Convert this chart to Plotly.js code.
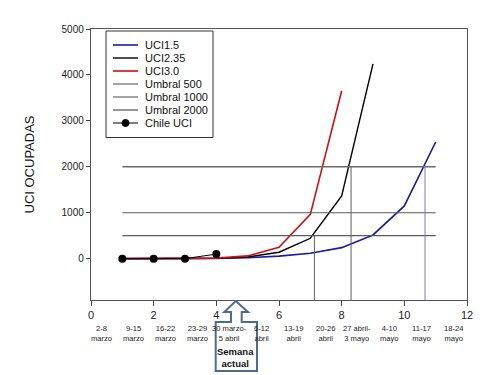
<!DOCTYPE html>
<html>
<head>
<meta charset="utf-8">
<script src="https://cdn.plot.ly/plotly-3.0.1.min.js"></script>
<style>html,body{margin:0;padding:0;background:#fff;}#chart{width:500px;height:375px;}</style>
</head>
<body>
<div id="chart"></div>
<script>
// Semana index (x axis)
var weeksModel = [1, 2, 3, 4, 5, 6, 7, 8, 9, 10, 11];
var uci15  = [0, 0, 0, 5, 20, 55, 117, 240, 516, 1148, 2540];
var weeksUci235 = [1, 2, 3, 4, 5, 6, 7, 8, 9];
var uci235 = [0, 0, 0, 8, 35, 140, 444, 1366, 4240];
var weeksUci30 = [1, 2, 3, 4, 5, 6, 7, 8];
var uci30  = [0, 0, 0, 12, 60, 250, 965, 3655];
var umbralX = [1, 11];
var umbral500 = [500, 500];
var umbral1000 = [1000, 1000];
var umbral2000 = [2000, 2000];
var chileWeeks = [1, 2, 3, 4];
var chileUci = [0, 0, 0, 100];
// crossing markers (vertical drop lines)
var drop1X = [7.13, 7.13], drop1Y = [500, -900];
var drop2X = [8.30, 8.30], drop2Y = [2000, -900];
var drop3X = [10.66, 10.66], drop3Y = [2000, -900];
var weekLabels = ["2-8<br>marzo", "9-15<br>marzo", "16-22<br>marzo", "23-29<br>marzo",
  "30 marzo-<br>5 abril", "6-12<br>abril", "13-19<br>abril", "20-26<br>abril",
  "27 abril-<br>3 mayo", "4-10<br>mayo", "11-17<br>mayo", "18-24<br>mayo"];
var xTicks = [0, 2, 4, 6, 8, 10, 12];
var yTicks = [0, 1000, 2000, 3000, 4000, 5000];
var legendNames = ['UCI1.5', 'UCI2.35', 'UCI3.0', 'Umbral 500', 'Umbral 1000', 'Umbral 2000', 'Chile UCI'];

var blue = '#1a1aa8', black = '#000000', red = '#cc1010', gray = '#5a5a5a', gray2 = '#6a6a6a';
var legendColors = [blue, black, red, gray, gray, gray2, black];
var legendWidths = [1.6, 1.4, 1.6, 1.1, 1.1, 1.4, 1];

var traces = [
  {x: weeksModel, y: uci15, name: legendNames[0], mode: 'lines', line: {color: blue, width: 1.6}},
  {x: weeksUci235, y: uci235, name: legendNames[1], mode: 'lines', line: {color: black, width: 1.4}},
  {x: weeksUci30, y: uci30, name: legendNames[2], mode: 'lines', line: {color: red, width: 1.6}},
  {x: umbralX, y: umbral500, name: legendNames[3], mode: 'lines', line: {color: gray, width: 1.2}},
  {x: umbralX, y: umbral1000, name: legendNames[4], mode: 'lines', line: {color: gray, width: 1.2}},
  {x: umbralX, y: umbral2000, name: legendNames[5], mode: 'lines', line: {color: gray2, width: 1.4}},
  {x: chileWeeks, y: chileUci, name: legendNames[6], mode: 'lines+markers', line: {color: '#000', width: 1},
   marker: {color: '#000', size: 8}},
  {x: drop1X, y: drop1Y, mode: 'lines', line: {color: '#606060', width: 1}, hoverinfo: 'skip'},
  {x: drop2X, y: drop2Y, mode: 'lines', line: {color: '#606060', width: 1}, hoverinfo: 'skip'},
  {x: drop3X, y: drop3Y, mode: 'lines', line: {color: '#7a7ac8', width: 1}, hoverinfo: 'skip'}
];

var plotLeft = 91, plotRight = 467, W = plotRight - plotLeft;
var plotTop = 29, plotBottom = 300, H = plotBottom - plotTop;
function px(p) { return (p - plotLeft) / W; }
function py(p) { return (plotBottom - p) / H; }

var labelFont = {family: 'Liberation Sans, Arial', size: 7.6, color: '#222'};
var annotations = weekLabels.map(function (t, i) {
  return {x: 0.34 + 1.02 * i, xref: 'x', y: py(333), yref: 'paper', yanchor: 'middle', text: t,
    showarrow: false, font: labelFont};
});
annotations.push({x: 4.6, xref: 'x', y: py(357), yref: 'paper', yanchor: 'middle',
  text: '<b>Semana<br>actual</b>', showarrow: false,
  font: {family: 'Liberation Sans, Arial', size: 9.5, color: '#111'}});

var shapes = [];
// custom compact legend
shapes.push({type: 'rect', xref: 'paper', yref: 'paper', x0: px(106), x1: px(213), y0: py(31), y1: py(137.5),
  line: {color: '#333', width: 1}, fillcolor: '#fff', layer: 'above'});
var rowY = [45, 58, 71, 84, 97, 110, 123];
legendNames.forEach(function (n, i) {
  shapes.push({type: 'line', xref: 'paper', yref: 'paper', x0: px(113), x1: px(138), y0: py(rowY[i]), y1: py(rowY[i]),
    line: {color: legendColors[i], width: legendWidths[i]}, layer: 'above'});
  annotations.push({x: px(143), xref: 'paper', y: py(rowY[i]), yref: 'paper', xanchor: 'left', yanchor: 'middle',
    text: n, showarrow: false, font: {family: 'Liberation Sans, Arial', size: 11, color: '#111'}});
});
shapes.push({type: 'circle', xref: 'paper', yref: 'paper', x0: px(122), x1: px(129), y0: py(119.5), y1: py(126.5),
  line: {color: '#000', width: 1}, fillcolor: '#000', layer: 'above'});

var arrowPath = 'M ' + px(235.7) + ' ' + py(301) +
  ' L ' + px(248) + ' ' + py(312) +
  ' L ' + px(241.7) + ' ' + py(312) +
  ' L ' + px(241.7) + ' ' + py(322) +
  ' L ' + px(257) + ' ' + py(322) +
  ' L ' + px(257) + ' ' + py(371) +
  ' L ' + px(215.7) + ' ' + py(371) +
  ' L ' + px(215.7) + ' ' + py(322) +
  ' L ' + px(231) + ' ' + py(322) +
  ' L ' + px(231) + ' ' + py(312) +
  ' L ' + px(224.3) + ' ' + py(312) + ' Z';
shapes.push({type: 'path', xref: 'paper', yref: 'paper', path: arrowPath,
  line: {color: '#4e6d8c', width: 2}, fillcolor: 'rgba(0,0,0,0)'});

var layout = {
  width: 500, height: 375,
  margin: {l: 91, r: 33, t: 29, b: 75},
  paper_bgcolor: '#fff', plot_bgcolor: '#fff',
  font: {family: 'Liberation Sans, Arial', color: '#222'},
  showlegend: false,
  xaxis: {range: [0, 12], tickvals: xTicks, ticks: 'outside', ticklen: 5, tickcolor: '#444',
    showgrid: false, zeroline: false, showline: true, linecolor: '#555', linewidth: 1.2, mirror: true,
    tickfont: {size: 11, color: '#222'}},
  yaxis: {range: [-900, 5000], tickvals: yTicks, ticks: 'outside', ticklen: 4, tickcolor: '#444',
    showgrid: false, zeroline: false, showline: true, linecolor: '#555', linewidth: 1.2, mirror: true,
    tickfont: {size: 10, color: '#222'},
    title: {text: 'UCI OCUPADAS', font: {size: 13, color: '#111'}, standoff: 24}},
  annotations: annotations,
  shapes: shapes
};

Plotly.newPlot('chart', traces, layout, {displayModeBar: false, staticPlot: true});
</script>
</body>
</html>
